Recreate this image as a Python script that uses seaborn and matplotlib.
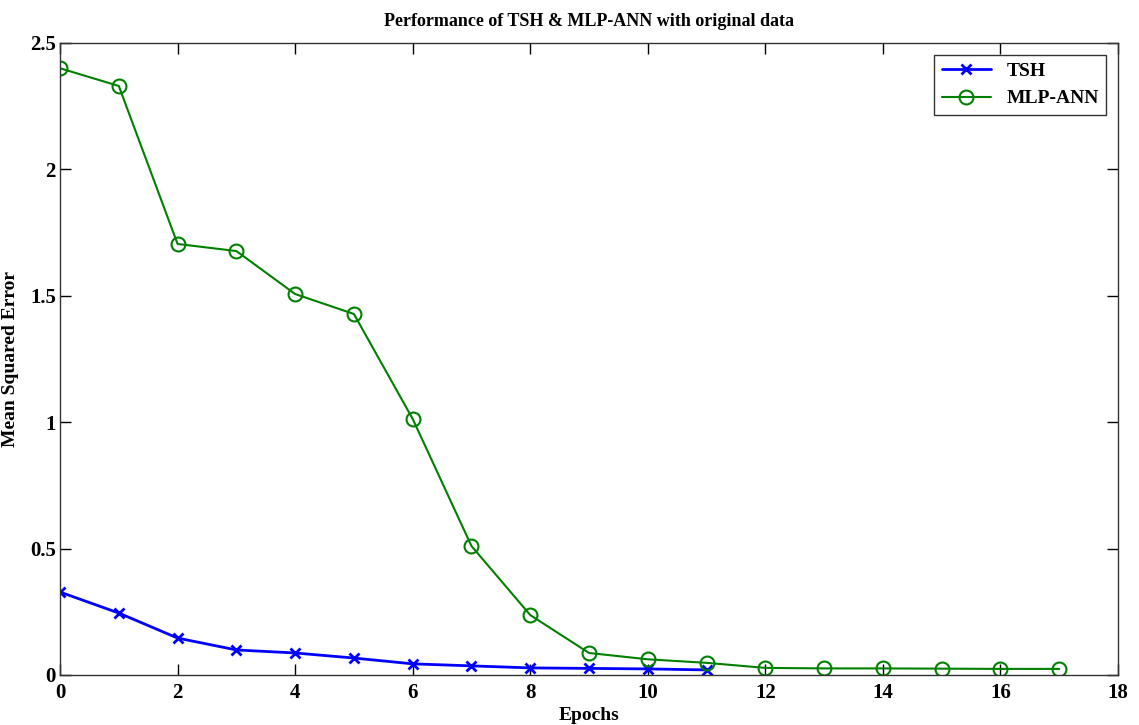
import matplotlib
matplotlib.use("Agg")
import matplotlib.pyplot as plt
import seaborn as sns
import numpy as np
import pandas as pd

epochs_tsh = [0, 1, 2, 3, 4, 5, 6, 7, 8, 9, 10, 11]
mse_tsh = [0.328, 0.245, 0.146, 0.099, 0.087, 0.067, 0.044, 0.036, 0.028, 0.026, 0.024, 0.020]
epochs_mlp = list(range(18))
mse_mlp = [2.40, 2.33, 1.705, 1.677, 1.507, 1.428, 1.013, 0.51, 0.237, 0.087, 0.062, 0.048,
           0.028, 0.026, 0.026, 0.025, 0.024, 0.024]
x_ticks = [0, 2, 4, 6, 8, 10, 12, 14, 16, 18]
y_ticks = [0, 0.5, 1, 1.5, 2, 2.5]
y_ticklabels = ["0", "0.5", "1", "1.5", "2", "2.5"]

sns.set_theme(style="ticks")
plt.rcParams['font.family'] = ['Liberation Serif', 'DejaVu Serif']
plt.rcParams['font.weight'] = 'bold'
plt.rcParams['text.color'] = 'black'
plt.rcParams['axes.labelcolor'] = 'black'

fig = plt.figure(figsize=(11.39, 7.25), dpi=100)
ax = fig.add_axes([0.0527, 0.069, 0.9289, 0.8717])

df_tsh = pd.DataFrame({"Epochs": epochs_tsh, "MSE": mse_tsh})
df_mlp = pd.DataFrame({"Epochs": epochs_mlp, "MSE": mse_mlp})

sns.lineplot(data=df_tsh, x="Epochs", y="MSE", ax=ax, color="#0000ff", marker="x",
             markersize=7, markeredgewidth=2, markeredgecolor="#0000ff",
             linewidth=2, label="TSH")
sns.lineplot(data=df_mlp, x="Epochs", y="MSE", ax=ax, color="#008000", marker="o",
             markersize=10, markerfacecolor="none", markeredgecolor="#008000",
             markeredgewidth=1.5, linewidth=1.5, label="MLP-ANN")

ax.set_xlim(0, 18)
ax.set_ylim(0, 2.5)
ax.set_xticks(x_ticks)
ax.set_yticks(y_ticks)
ax.set_yticklabels(y_ticklabels)
for s in ax.spines.values():
    s.set_visible(True)
    s.set_color("#333333")
    s.set_linewidth(1.0)
ax.tick_params(direction="in", length=8, width=1, top=True, right=True,
               labelsize=15, colors="black")
ax.tick_params(axis="x", pad=6)
ax.tick_params(axis="y", pad=3)
for lab in ax.get_xticklabels() + ax.get_yticklabels():
    lab.set_fontweight("bold")

ax.set_xlabel("Epochs", fontsize=14, fontweight="bold", color="black")
ax.xaxis.set_label_coords(0.5, -0.05)
ax.set_ylabel("Mean Squared Error", fontsize=14, fontweight="bold", color="black")
ax.yaxis.set_label_coords(-0.039, 0.5)
ax.set_title("Performance of TSH & MLP-ANN with original data", fontsize=13,
             fontweight="bold", pad=12, color="black")

leg = ax.legend(loc="upper right", fontsize=14, frameon=True, fancybox=False,
                edgecolor="#333333", framealpha=1, handlelength=2.5,
                borderaxespad=0.6)
leg.get_frame().set_linewidth(1.0)
for t in leg.get_texts():
    t.set_fontweight("bold")
    t.set_color("black")

fig.savefig("out.png", dpi=100)
